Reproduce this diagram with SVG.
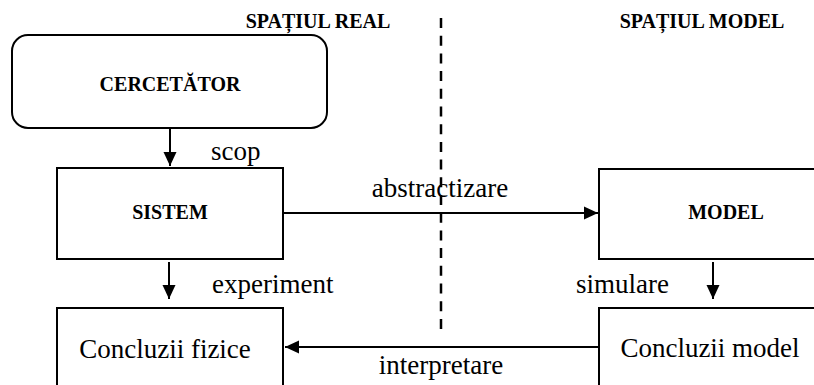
<svg xmlns="http://www.w3.org/2000/svg" width="814" height="385" viewBox="0 0 814 385">
  <style>
    .box { fill: #fff; stroke: #000; stroke-width: 2; }
    .serif { font-family: "Liberation Serif", "Times New Roman", Times, "DejaVu Serif", serif; fill: #000; }
    .title { font-weight: bold; font-size: 20px; }
    .label { font-size: 27px; }
    .link { stroke: #000; stroke-width: 2; fill: none; marker-end: url(#arrow); }
    .divider { stroke: #000; stroke-width: 2.5; stroke-dasharray: 10 7.7; fill: none; }
  </style>
  <defs>
    <marker id="arrow" markerUnits="userSpaceOnUse" markerWidth="14" markerHeight="14" viewBox="0 0 14 14" refX="14" refY="7" orient="auto">
      <path d="M0,0.5 L14,7 L0,13.5 Z" fill="#000"/>
    </marker>
  </defs>

  <rect width="814" height="385" fill="#fff"/>

  <!-- region headings and the dividing line -->
  <text class="serif title" font-family="Liberation Serif, serif" x="318" y="28" text-anchor="middle">SPAȚIUL REAL</text>
  <text class="serif title" font-family="Liberation Serif, serif" x="702" y="28" text-anchor="middle">SPAȚIUL MODEL</text>
  <line class="divider" x1="441" y1="18" x2="441" y2="336"/>

  <g id="cercetator">
    <rect class="box" x="12" y="35" width="315" height="93" rx="16" ry="16"/>
    <text class="serif title" font-family="Liberation Serif, serif" x="170" y="91" text-anchor="middle">CERCETĂTOR</text>
  </g>

  <g id="sistem">
    <rect class="box" x="57" y="168" width="226" height="91"/>
    <text class="serif title" font-family="Liberation Serif, serif" x="170" y="219" text-anchor="middle">SISTEM</text>
  </g>

  <g id="model">
    <rect class="box" x="599" y="169" width="230" height="90"/>
    <text class="serif title" font-family="Liberation Serif, serif" x="726" y="219" text-anchor="middle">MODEL</text>
  </g>

  <g id="concluzii-fizice">
    <rect class="box" x="57" y="308" width="226" height="90"/>
    <text class="serif label" font-family="Liberation Serif, serif" x="165" y="358" text-anchor="middle">Concluzii fizice</text>
  </g>

  <g id="concluzii-model">
    <rect class="box" x="599" y="308" width="230" height="90"/>
    <text class="serif label" font-family="Liberation Serif, serif" x="710" y="357" text-anchor="middle">Concluzii model</text>
  </g>

  <g id="connectors">
    <line class="link" x1="170" y1="128" x2="170" y2="166"/>
    <text class="serif label" font-family="Liberation Serif, serif" x="211" y="160">scop</text>

    <line class="link" x1="283" y1="213" x2="598" y2="213"/>
    <text class="serif label" font-family="Liberation Serif, serif" x="440" y="197" text-anchor="middle">abstractizare</text>

    <line class="link" x1="169" y1="262" x2="169" y2="299"/>
    <text class="serif label" font-family="Liberation Serif, serif" x="212" y="293">experiment</text>

    <line class="link" x1="713" y1="262" x2="713" y2="299"/>
    <text class="serif label" font-family="Liberation Serif, serif" x="576" y="293">simulare</text>

    <line class="link" x1="599" y1="347" x2="285" y2="347"/>
    <text class="serif label" font-family="Liberation Serif, serif" x="441" y="374" text-anchor="middle">interpretare</text>
  </g>
</svg>
